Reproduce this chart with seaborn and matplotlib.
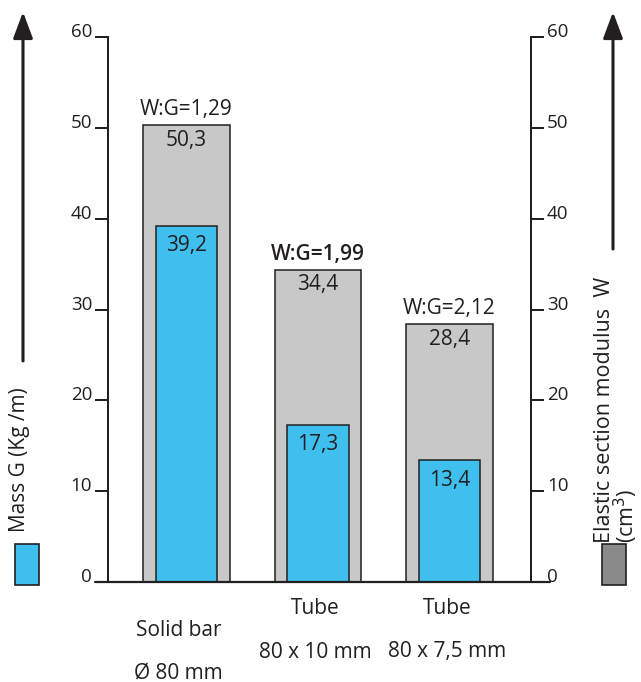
import matplotlib
matplotlib.use('Agg')
import matplotlib.pyplot as plt
import seaborn as sns
import pandas as pd
from matplotlib.patches import Rectangle, FancyArrowPatch
from matplotlib.lines import Line2D

# Data
sections = ['Solid bar Ø 80 mm', 'Tube 80 x 10 mm', 'Tube 80 x 7,5 mm']
name_lines = ['Solid bar', 'Tube', 'Tube']
size_lines = ['Ø 80 mm', '80 x 10 mm', '80 x 7,5 mm']
modulus_w = [50.3, 34.4, 28.4]   # cm3, grey bars
mass_g = [39.2, 17.3, 13.4]      # kg/m, blue bars
ratio_labels = ['W:G=1,29', 'W:G=1,99', 'W:G=2,12']
y_ticks = [0, 10, 20, 30, 40, 50, 60]

df = pd.DataFrame({'section': sections, 'W': modulus_w, 'G': mass_g})

ink = '#231f20'
grey = '#c8c8c8'
blue = '#3ebfee'
legend_grey = '#8a8a8a'

sns.set_style('white')
plt.rcParams['font.family'] = ['Open Sans', 'DejaVu Sans']
plt.rcParams['text.color'] = ink

fig = plt.figure(figsize=(6.41, 6.82), dpi=100)
ax = fig.add_axes([108 / 641, 100 / 682, 423 / 641, 545 / 682])

sns.barplot(data=df, x='section', y='W', color=grey, width=0.66, saturation=1,
            edgecolor=ink, linewidth=1.1, ax=ax)
sns.barplot(data=df, x='section', y='G', color=blue, width=0.468, saturation=1,
            edgecolor=ink, linewidth=1.1, ax=ax)

ax.set_xlim(-0.597, 2.62)
ax.set_ylim(0, 60)
ax.set_xlabel('')
ax.set_ylabel('')
ax.set_xticks([])
ax.set_yticks(y_ticks)
ax.tick_params(axis='y', direction='out', length=9.4, width=1.44, pad=2,
               labelsize=13.5, colors=ink)
for lab in ax.get_yticklabels():
    lab.set_va('baseline')

for side in ['top', 'bottom', 'right']:
    ax.spines[side].set_visible(False)
ax.spines['left'].set_linewidth(1.44)
ax.spines['left'].set_color(ink)

# secondary axis for W
ax2 = ax.twinx()
ax2.set_ylim(0, 60)
ax2.set_yticks(y_ticks)
ax2.tick_params(axis='y', direction='out', length=9.4, width=1.44, pad=2,
                labelsize=13.5, colors=ink)
for lab in ax2.get_yticklabels():
    lab.set_va('baseline')
for side in ['top', 'bottom', 'left']:
    ax2.spines[side].set_visible(False)
ax2.spines['right'].set_linewidth(1.44)
ax2.spines['right'].set_color(ink)

# baseline running past both axes
ax.add_line(Line2D([-13 / 423, 1 + 19 / 423], [0, 0], transform=ax.transAxes,
                   color=ink, lw=1.6, clip_on=False))


def fmt(v):
    return f'{v:.1f}'.replace('.', ',')


# value labels
for i, (w, g, r) in enumerate(zip(modulus_w, mass_g, ratio_labels)):
    ax.annotate(fmt(w), (i, w), xytext=(0, -15), textcoords='offset pixels',
                ha='center', va='center', fontsize=15)
    ax.annotate(fmt(g), (i, g), xytext=(0, -20), textcoords='offset pixels',
                ha='center', va='center', fontsize=15)
    ax.annotate(r, (i, w), xytext=(0, 10), textcoords='offset pixels',
                ha='center', va='baseline', fontsize=15,
                fontweight='semibold' if i == 1 else 'normal')

# category labels under the bars
line1_dy = [-48, -26, -26]
line2_dy = [-91, -70, -70]
label_dx = [-8, -3, -2]
for i in range(len(sections)):
    ax.annotate(name_lines[i], (i, 0), xytext=(label_dx[i], line1_dy[i]),
                textcoords='offset pixels', ha='center', va='center',
                fontsize=15, annotation_clip=False)
    ax.annotate(size_lines[i], (i, 0), xytext=(label_dx[i], line2_dy[i]),
                textcoords='offset pixels', ha='center', va='center',
                fontsize=15, annotation_clip=False)

# axis titles with arrows and colour keys
fig.text(20 / 641, 1 - 460 / 682, 'Mass G (Kg /m)', rotation=90,
         ha='center', va='center', fontsize=15)
fig.text(617 / 641, 1 - 543 / 682, 'Elastic section modulus  W\n(cm$^3$)',
         rotation=90, ha='center', va='bottom', multialignment='left',
         linespacing=0.85, fontsize=15.5)

for x, y_end in [(23, 361), (613, 249)]:
    fig.add_artist(FancyArrowPatch(
        (x / 641, 1 - y_end / 682), (x / 641, 1 - 12 / 682),
        transform=fig.transFigure, arrowstyle='-|>,head_length=1.6,head_width=0.6',
        mutation_scale=10, lw=2.2, color=ink, shrinkA=0, shrinkB=0))

fig.add_artist(Rectangle((15 / 641, 97 / 682), 24 / 641, 41 / 682,
                         transform=fig.transFigure, facecolor=blue,
                         edgecolor=ink, lw=1.2))
fig.add_artist(Rectangle((602 / 641, 97 / 682), 24 / 641, 41 / 682,
                         transform=fig.transFigure, facecolor=legend_grey,
                         edgecolor=ink, lw=1.2))

fig.savefig('out.png', dpi=100)
